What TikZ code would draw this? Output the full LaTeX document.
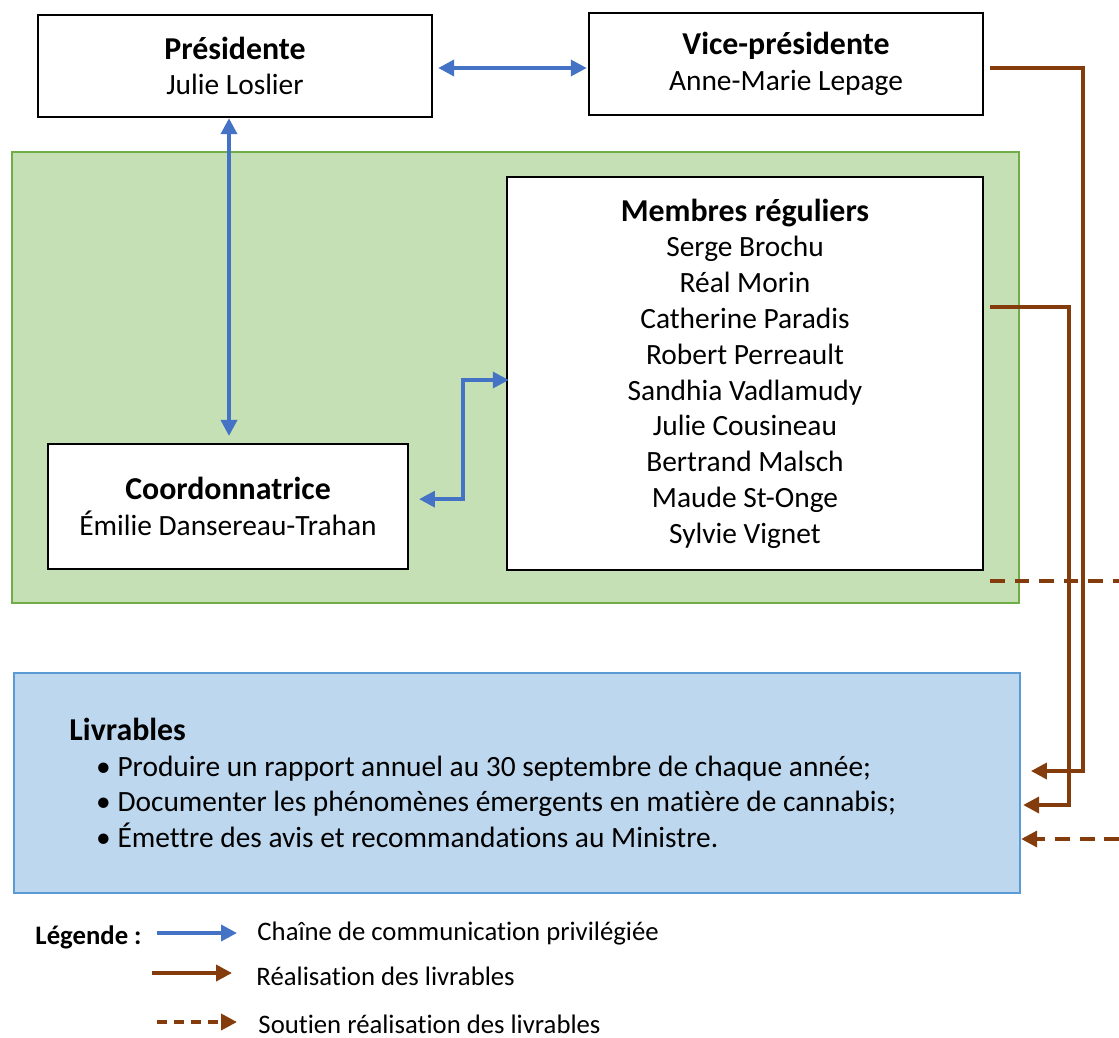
\documentclass[tikz,border=0pt]{standalone}
\usepackage{fontspec}
\setmainfont{Carlito}[Ligatures=NoCommon]
\usetikzlibrary{arrows.meta,positioning}
\definecolor{comblue}{HTML}{4472C4}
\definecolor{livbrown}{HTML}{843C0C}
\definecolor{grpgreen}{HTML}{C5E0B4}
\definecolor{grpgreenline}{HTML}{70AD47}
\definecolor{livblue}{HTML}{BDD7EE}
\definecolor{livblueline}{HTML}{5B9BD5}
\newcommand{\boxtitle}[1]{{\fontsize{13pt}{15pt}\selectfont\bfseries #1}}
\newcommand{\livitem}{\hspace*{13.9pt}\makebox[0pt][c]{\large\textbullet}\hspace*{5.7pt}}
\tikzset{
  person/.style={draw=black,line width=1pt,fill=white,align=center,inner sep=0pt,
    font=\fontsize{12pt}{14.6pt}\selectfont},
  commarrow/.style={{Triangle[length=6.5pt,width=6.5pt]}-{Triangle[length=6.5pt,width=6.5pt]},comblue,line width=1.5pt},
  realarrow/.style={-{Triangle[length=6.5pt,width=6.5pt]},livbrown,line width=1.5pt},
  soutienarrow/.style={realarrow,dash pattern=on 6pt off 4pt},
  legtext/.style={anchor=west,inner sep=0pt,font=\fontsize{10.9pt}{13pt}\selectfont},
}
\begin{document}
\begin{tikzpicture}[x=0.408pt,y=-0.408pt]
\useasboundingbox (0,0) rectangle (1119,1037);
% groupes
\node (groupe) [draw=grpgreenline,fill=grpgreen,line width=1pt,minimum width=410.9pt,minimum height=184pt] at (515.5,377.5) {};
\node (livrables) [draw=livblueline,fill=livblue,line width=1pt,minimum width=410.4pt,minimum height=89.8pt] at (517,783) {};
% personnes
\node (pres) [person,minimum width=160.8pt,minimum height=41.6pt] at (235,66) {\boxtitle{Présidente}\\Julie Loslier};
\node (vice) [person,minimum width=160.8pt,minimum height=41.6pt] at (786,64) {\boxtitle{Vice-présidente}\\Anne-Marie Lepage};
\node (membres) [person,minimum width=194.2pt,minimum height=160.3pt] at (745,373.5) {\boxtitle{Membres réguliers}\\Serge Brochu\\Réal Morin\\Catherine Paradis\\Robert Perreault\\Sandhia Vadlamudy\\Julie Cousineau\\Bertrand Malsch\\Maude St-Onge\\Sylvie Vignet};
\node (coord) [person,minimum width=146.9pt,minimum height=51pt] at (228,506.5) {\boxtitle{Coordonnatrice}\\Émilie Dansereau-Trahan};
% livrables
\node (livtext) [anchor=north west,inner sep=0pt,align=left,font=\fontsize{12pt}{14.5pt}\selectfont] at (69,718) {\boxtitle{Livrables}\\
\livitem Produire un rapport annuel au 30 septembre de chaque année;\\
\livitem Documenter les phénomènes émergents en matière de cannabis;\\
\livitem Émettre des avis et recommandations au Ministre.};
%
\path[commarrow] ([xshift=2pt]pres.east |- 0,68) edge ([xshift=-0.4pt]vice.west |- 0,68);
\path[commarrow] (pres.south -| 229,0) edge ([yshift=2.8pt]coord.north -| 229,0);
\draw[commarrow] ([xshift=4pt,yshift=3pt]coord.east) -| (463,380) -- ([xshift=1.2pt]membres.west |- 0,380);
%
\coordinate (vicesrc) at (990,68);
\coordinate (membsrc) at (990,307);
\coordinate (grpsrc) at (990,581);
\coordinate (grpend) at (1119,581);
\coordinate (soutsrc) at (1119,839);
\draw[realarrow] (vicesrc) -- (1083,68) |- ([xshift=4pt]livrables.east |- 0,771);
\draw[realarrow] (membsrc) -- (1069,307) |- ([xshift=0.8pt]livrables.east |- 0,805);
\draw[livbrown,line width=1.5pt,dash pattern=on 6pt off 4pt] (grpsrc) -- (grpend);
\draw[soutienarrow] (soutsrc) -- (livrables.east |- 0,839);
% legende
\node (legende) [anchor=west,inner sep=0pt,font=\fontsize{10.9pt}{13pt}\selectfont\bfseries] at (35,937) {Légende :};
\coordinate (lega) at (157,933);
\coordinate (legb) at (237,933);
\coordinate (legc) at (152,973);
\coordinate (legd) at (232,973);
\coordinate (lege) at (157,1022);
\coordinate (legf) at (237,1022);
\draw[-{Triangle[length=6.5pt,width=6.5pt]},comblue,line width=1.5pt] (lega) -- (legb);
\draw[realarrow] (legc) -- (legd);
\draw[soutienarrow,dash pattern=on 4pt off 3pt] (lege) -- (legf);
\node (legcomm) [legtext] at (257,934) {Chaîne de communication privilégiée};
\node (legreal) [legtext] at (256,976) {Réalisation des livrables};
\node (legsout) [legtext] at (258,1024) {Soutien réalisation des livrables};
\end{tikzpicture}
\end{document}
